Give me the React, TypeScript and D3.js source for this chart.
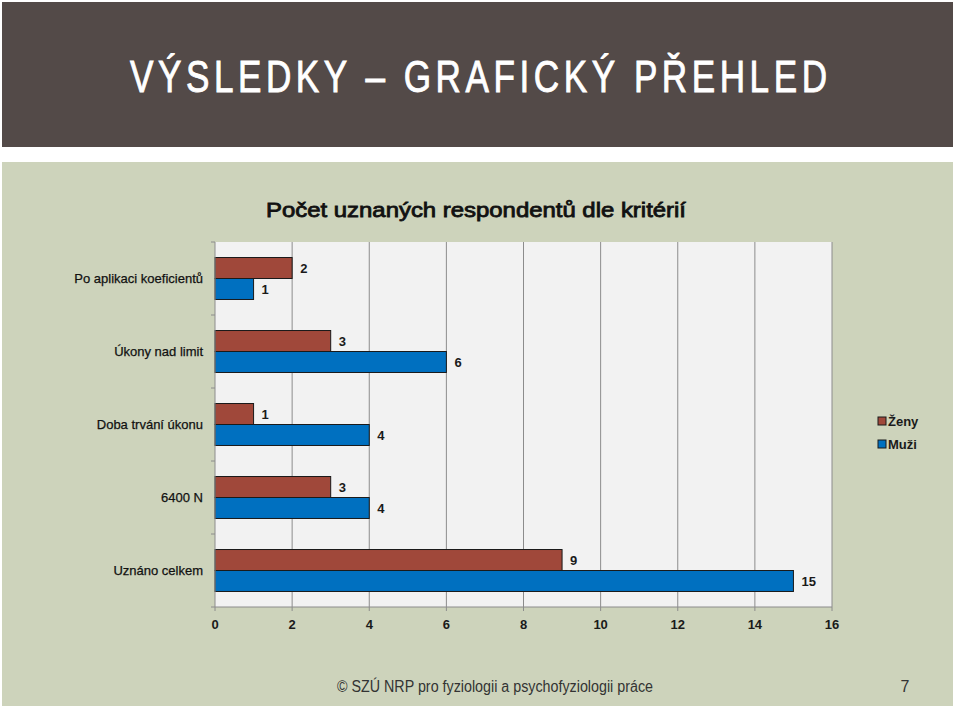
import React from "react";
import * as d3 from "d3";

const categories = [
  "Po aplikaci koeficientů",
  "Úkony nad limit",
  "Doba trvání úkonu",
  "6400 N",
  "Uznáno celkem",
];
const seriesNames = ["Ženy", "Muži"];
const zeny = [2, 3, 1, 3, 9];
const muzi = [1, 6, 4, 4, 15];
const xTickValues = [0, 2, 4, 6, 8, 10, 12, 14, 16];

const W = 959;
const H = 710;
const COLORS = ["#A0483A", "#0070C0"];
const FONT = "'Liberation Sans', Arial, sans-serif";

export default function App() {
  const x = d3.scaleLinear().domain([0, 16]).range([215, 832]);
  const y = d3
    .scaleBand<string>()
    .domain(categories)
    .range([242, 607])
    .paddingInner(0.425)
    .paddingOuter(0.2125);
  const step = y.step();
  const sub = d3
    .scaleBand<string>()
    .domain(seriesNames)
    .range([0, y.bandwidth()]);
  const values = [zeny, muzi];
  const [yTop, yBot] = y.range();
  const boundaries = d3.range(categories.length + 1).map((i) => yTop + i * step);
  const hScale = 0.78;

  return (
    <svg
      width={W}
      height={H}
      style={{ position: "absolute", left: 0, top: 0, background: "#fff" }}
      fontFamily={FONT}
    >
      {/* header */}
      <rect x={2} y={2} width={951} height={145} fill="#534A48" />
      <g transform={`translate(130, 92) scale(${hScale}, 1)`}>
        <text
          x={0}
          y={0}
          fill="#fff"
          stroke="#fff"
          strokeWidth={0.9}
          fontSize={45}
          textLength={697 / hScale}
          lengthAdjust="spacing"
        >
          VÝSLEDKY – GRAFICKÝ PŘEHLED
        </text>
      </g>

      {/* panel */}
      <rect x={2} y={162} width={951} height={544} fill="#CDD3BB" />

      {/* chart title */}
      <text
        x={266}
        y={217}
        fontSize={20}
        fill="#111"
        stroke="#111"
        strokeWidth={0.8}
        textLength={420}
        lengthAdjust="spacingAndGlyphs"
      >
        Počet uznaných respondentů dle kritérií
      </text>

      {/* plot area */}
      <rect x={x(0)} y={yTop} width={x(16) - x(0)} height={yBot - yTop} fill="#F2F2F2" />
      {xTickValues.slice(1).map((t) => (
        <line key={t} x1={x(t)} x2={x(t)} y1={yTop} y2={yBot} stroke="#8C8C8C" strokeWidth={1} />
      ))}

      {/* bars */}
      {categories.map((c, i) =>
        seriesNames.map((s, j) => {
          const v = values[j][i];
          const by = (y(c) as number) + (sub(s) as number);
          const bh = sub.bandwidth();
          return (
            <g key={c + s}>
              <rect
                x={x(0)}
                y={by}
                width={x(v) - x(0)}
                height={bh}
                fill={COLORS[j]}
                stroke="#1a1a1a"
                strokeWidth={1}
              />
              <text
                x={x(v) + 8}
                y={by + bh / 2}
                dy="0.35em"
                fontSize={13}
                fontWeight="bold"
                fill="#1a1a1a"
              >
                {v}
              </text>
            </g>
          );
        })
      )}

      {/* left axis */}
      <line x1={x(0)} x2={x(0)} y1={yTop} y2={yBot} stroke="#8C8C8C" />
      {boundaries.map((b, i) => (
        <line key={i} x1={x(0) - 4} x2={x(0)} y1={b} y2={b} stroke="#8C8C8C" />
      ))}
      {categories.map((c) => (
        <text
          key={c}
          x={203}
          y={(y(c) as number) + y.bandwidth() / 2}
          dy="0.35em"
          textAnchor="end"
          fontSize={13}
          fill="#111"
          stroke="#111"
          strokeWidth={0.25}
        >
          {c}
        </text>
      ))}

      {/* bottom axis */}
      <line x1={x(0)} x2={x(16)} y1={yBot} y2={yBot} stroke="#8C8C8C" />
      {xTickValues.map((t) => (
        <g key={t}>
          <line x1={x(t)} x2={x(t)} y1={yBot} y2={yBot + 4} stroke="#8C8C8C" />
          <text x={x(t)} y={629} textAnchor="middle" fontSize={13} fontWeight="bold" fill="#1a1a1a">
            {t}
          </text>
        </g>
      ))}

      {/* legend */}
      {seriesNames.map((s, j) => (
        <g key={s} transform={`translate(878, ${421 + j * 23})`}>
          <rect x={0} y={-4} width={8} height={8} fill={COLORS[j]} stroke="#1a1a1a" strokeWidth={1} />
          <text x={10} y={0} dy="0.35em" fontSize={13} fontWeight="bold" fill="#1a1a1a">
            {s}
          </text>
        </g>
      ))}

      {/* footer */}
      <text
        x={337}
        y={692}
        fontSize={16}
        fill="#333"
        textLength={316}
        lengthAdjust="spacingAndGlyphs"
      >
        © SZÚ NRP pro fyziologii a psychofyziologii práce
      </text>
      <text x={905} y={692} textAnchor="middle" fontSize={16} fill="#333">
        7
      </text>
    </svg>
  );
}
